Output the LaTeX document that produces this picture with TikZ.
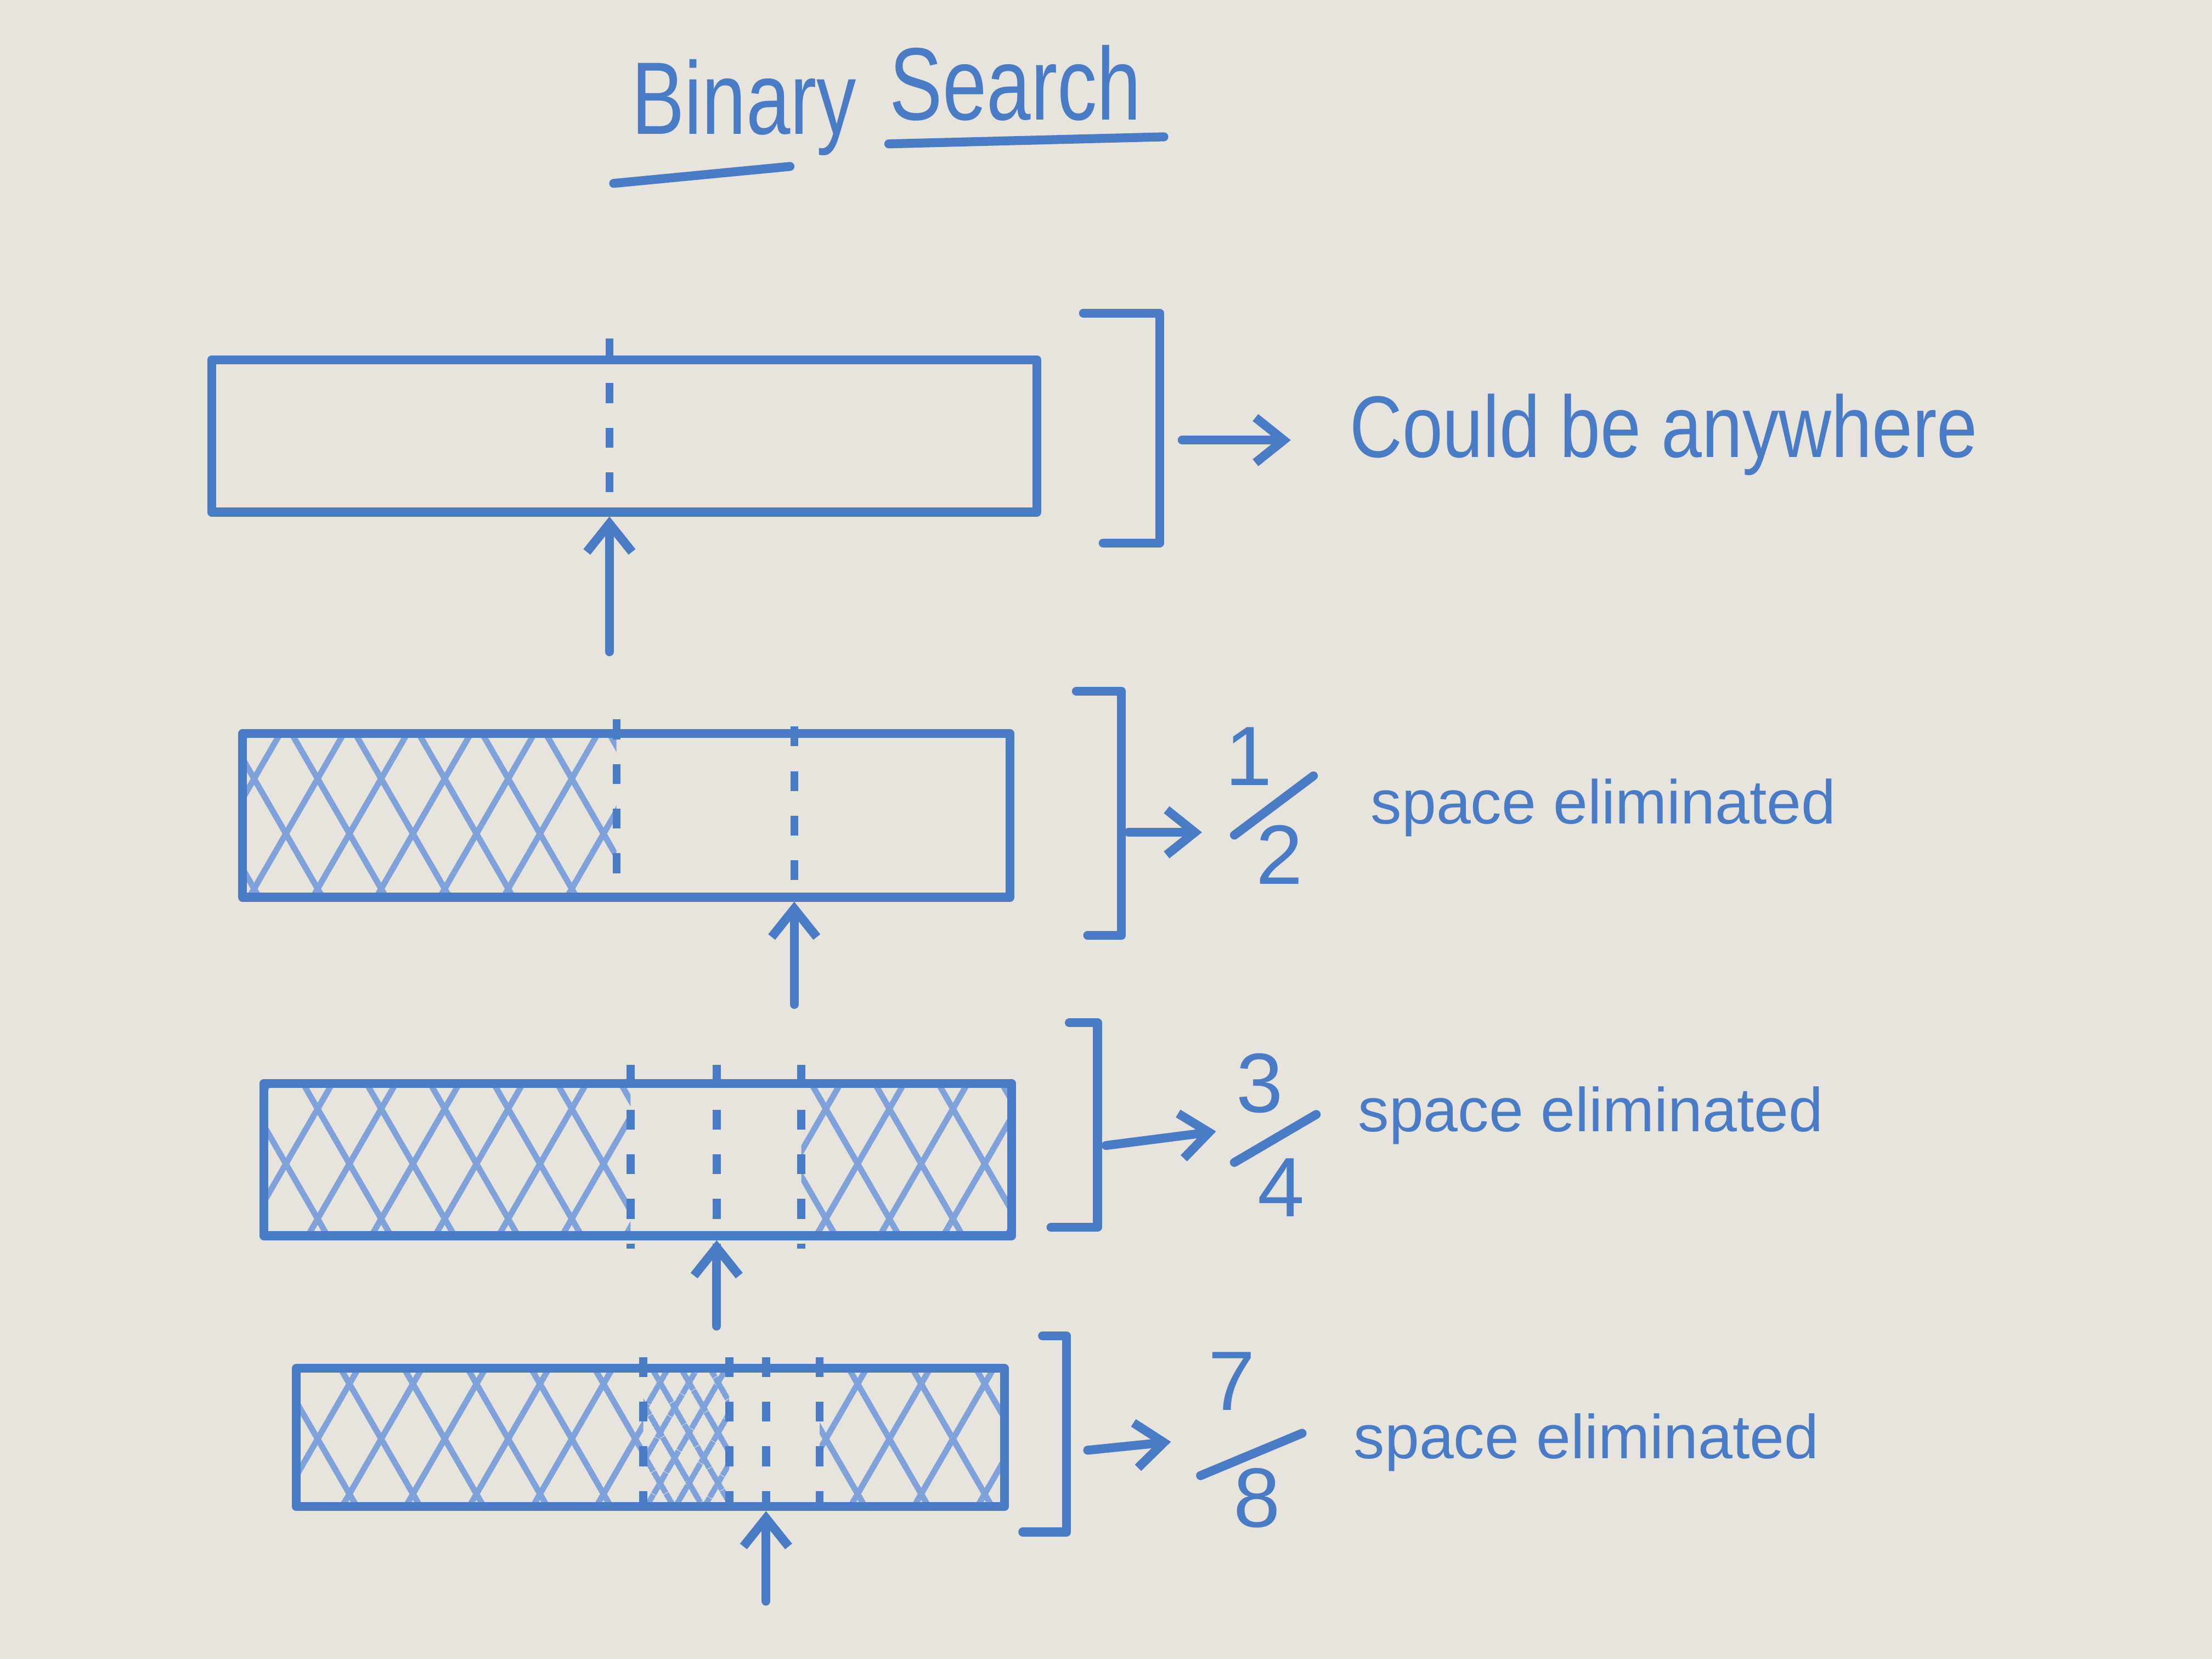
\documentclass[tikz,border=0pt]{standalone}
\usepackage{fontspec}
\setmainfont{Liberation Sans}
\usepackage{tikz}
\usetikzlibrary{arrows.meta,patterns.meta}
\definecolor{board}{HTML}{E7E3DD}
\definecolor{ink}{HTML}{4A7CC6}
\definecolor{inkLight}{HTML}{7EA2D9}
\newcommand{\stretched}[2][1.3]{\scalebox{1}[#1]{#2}}

\begin{document}
\begin{tikzpicture}[
  x=1cm, y=-1cm,
  marker/.style={draw=ink, line width=1.8pt, line cap=round, line join=round},
  bar/.style={marker, rectangle, inner sep=0pt},
  split/.style={draw=ink, line width=1.6pt, dash pattern=on 4pt off 5pt},
  hatch/.style={pattern={Lines[angle=60,distance=#1,line width=1.2pt]}, pattern color=inkLight,
    postaction={pattern={Lines[angle=-60,distance=#1,line width=1.2pt]}, pattern color=inkLight}},
  hatch/.default=3.9mm,
  arrow/.style={marker, -{Straight Barb[length=2mm,width=3.2mm]}},
  title/.style={text=ink, font=\fontsize{16}{19}\selectfont, inner sep=0pt, anchor=base west},
  note/.style={text=ink, font=\fontsize{12.5}{15}\selectfont, inner sep=0pt, anchor=base west},
  digit/.style={text=ink, font=\fontsize{17}{20}\selectfont, inner sep=0pt}
]
\useasboundingbox (0,0) rectangle (15.68,11.76);
\fill[board] (0,0) rectangle (15.68,11.76);

% title
\node[title] (bin) at (4.47,0.95) {\stretched{Binary}};
\node[title] (sea) at (6.30,0.85) {\stretched{Search}};
\draw[marker] (4.35,1.30) -- (5.60,1.18);
\draw[marker] (6.30,1.02) -- (8.25,0.97);

% eliminated parts
\path[hatch] (1.72,5.20) rectangle (4.37,6.36);
\path[hatch] (1.87,7.68) rectangle (4.47,8.76);
\path[hatch] (5.68,7.68) rectangle (7.17,8.76);
\path[hatch] (2.10,9.70) rectangle (4.56,10.68);
\path[hatch=1.8mm] (4.56,9.70) rectangle (5.17,10.68);
\path[hatch] (5.81,9.70) rectangle (7.12,10.68);

% the four arrays
\node[bar, minimum width=5.85cm, minimum height=1.08cm] (bar1) at (4.425,3.09) {};
\node[bar, minimum width=5.44cm, minimum height=1.16cm] (bar2) at (4.44,5.78) {};
\node[bar, minimum width=5.30cm, minimum height=1.08cm] (bar3) at (4.52,8.22) {};
\node[bar, minimum width=5.02cm, minimum height=0.98cm] (bar4) at (4.61,10.19) {};

% midpoints
\draw[split] (4.32,2.40) -- (4.32,3.63);
\draw[split] (4.37,5.10) -- (4.37,6.36);
\draw[split] (5.63,5.15) -- (5.63,6.36);
\draw[split] (4.47,7.55) -- (4.47,8.85);
\draw[split] (5.08,7.55) -- (5.08,8.85);
\draw[split] (5.68,7.55) -- (5.68,8.85);
\draw[split] (4.56,9.62) -- (4.56,10.75);
\draw[split] (5.17,9.62) -- (5.17,10.75);
\draw[split] (5.43,9.62) -- (5.43,10.75);
\draw[split] (5.81,9.62) -- (5.81,10.75);

\coordinate (s1) at (4.32,4.62);
\coordinate (s2) at (5.63,7.12);
\coordinate (s3) at (5.08,9.40);
\coordinate (s4) at (5.43,11.35);
\draw[arrow] (s1) -- (s1 |- bar1.south);
\draw[arrow] (s2) -- (s2 |- bar2.south);
\draw[arrow] (s3) -- (s3 |- bar3.south);
\draw[arrow] (s4) -- (s4 |- bar4.south);

% brackets
\draw[marker] (7.68,2.22) -- (8.22,2.22) -- (8.22,3.85) -- (7.82,3.85);
\draw[marker] (7.63,4.90) -- (7.95,4.90) -- (7.95,6.63) -- (7.71,6.63);
\draw[marker] (7.58,7.25) -- (7.78,7.25) -- (7.78,8.70) -- (7.45,8.70);
\draw[marker] (7.39,9.47) -- (7.56,9.47) -- (7.56,10.86) -- (7.25,10.86);

\coordinate (b1) at (8.38,3.12);  \coordinate (e1) at (9.15,3.12);
\coordinate (b2) at (8.00,5.90);  \coordinate (e2) at (8.52,5.90);
\coordinate (b3) at (7.84,8.12);  \coordinate (e3) at (8.62,8.02);
\coordinate (b4) at (7.71,10.28); \coordinate (e4) at (8.30,10.22);
\draw[arrow] (b1) -- (e1);
\draw[arrow] (b2) -- (e2);
\draw[arrow] (b3) -- (e3);
\draw[arrow] (b4) -- (e4);

% what is left
\node[note, font=\fontsize{14.7}{17}\selectfont] (lab1) at (9.56,3.24) {\stretched[1.2]{Could be anywhere}};

\node[digit] (n2) at (8.85,5.36) {1};
\node[digit] (d2) at (9.07,6.06) {2};
\draw[marker] (8.75,5.92) -- (9.31,5.50);
\node[note] (lab2) at (9.71,5.84) {space eliminated};

\node[digit] (n3) at (8.93,7.68) {3};
\node[digit] (d3) at (9.08,8.42) {4};
\draw[marker] (8.75,8.24) -- (9.33,7.90);
\node[note] (lab3) at (9.62,8.02) {space eliminated};

\node[digit] (n4) at (8.73,9.79) {7};
\node[digit] (d4) at (8.91,10.62) {8};
\draw[marker] (8.51,10.46) -- (9.23,10.16);
\node[note] (lab4) at (9.59,10.34) {space eliminated};
\end{tikzpicture}
\end{document}
